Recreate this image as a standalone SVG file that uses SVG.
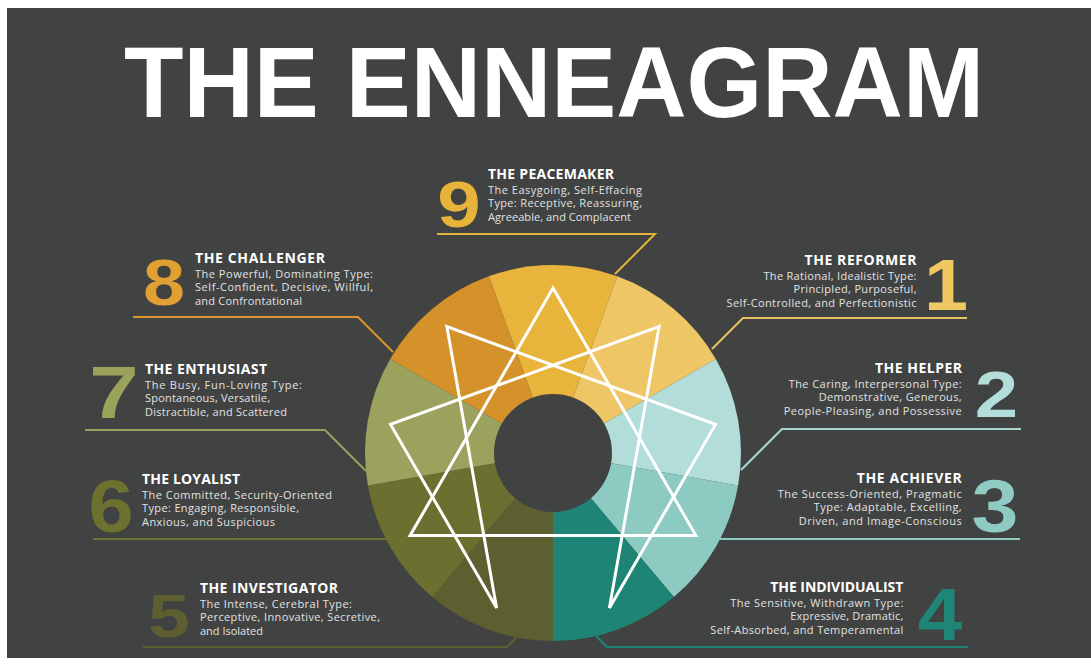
<svg xmlns="http://www.w3.org/2000/svg" width="1091" height="665" viewBox="0 0 1091 665">
  <style>
    .ttl{font-family:"Open Sans","Liberation Sans",sans-serif;font-weight:700;font-size:14px;fill:#ffffff}
    .body{font-family:"Open Sans","Liberation Sans",sans-serif;font-size:11px;fill:#e2e2e2}
    .num{font-family:"Liberation Sans",Arial,sans-serif;font-weight:700;text-anchor:middle}
    .lead{fill:none;stroke-width:2}
    .star{fill:none;stroke:#ffffff;stroke-width:3;stroke-linejoin:miter}
  </style>

  <rect x="0" y="0" width="1091" height="665" fill="#ffffff"/>
  <rect x="7" y="8" width="1084" height="650" fill="#414242"/>

  <text id="heading" x="124" y="117" font-family="'Liberation Sans',Arial,sans-serif" font-weight="700" font-size="100" fill="#ffffff" textLength="860" lengthAdjust="spacingAndGlyphs">THE ENNEAGRAM</text>

  <!-- wheel: nine 40-degree wedges around (553,453) -->
  <g id="wheel">
    <path d="M553,453 L488.7,276.3 A188,188 0 0 1 617.3,276.3 Z" fill="#E9B43B"/>
    <path d="M553,453 L617.3,276.3 A188,188 0 0 1 715.8,359 Z" fill="#EEC666"/>
    <path d="M553,453 L715.8,359 A188,188 0 0 1 738.1,485.6 Z" fill="#B2DDD8"/>
    <path d="M553,453 L738.1,485.6 A188,188 0 0 1 673.8,597 Z" fill="#8DCAC2"/>
    <path d="M553,453 L673.8,597 A188,188 0 0 1 553,641 Z" fill="#1E8576"/>
    <path d="M553,453 L553,641 A188,188 0 0 1 432.2,597 Z" fill="#5E5F31"/>
    <path d="M553,453 L432.2,597 A188,188 0 0 1 367.9,485.6 Z" fill="#6B7031"/>
    <path d="M553,453 L367.9,485.6 A188,188 0 0 1 390.2,359 Z" fill="#9BA25E"/>
    <path d="M553,453 L390.2,359 A188,188 0 0 1 488.7,276.3 Z" fill="#D6922A"/>
    <circle cx="553" cy="453" r="59" fill="#414242"/>
  </g>

  <g id="star">
    <polygon class="star" points="553,288 695.9,535.5 410.1,535.5"/>
    <polygon class="star" points="659.1,326.6 609.4,608.1 715.5,424.4 446.9,326.6 496.6,608.1 390.5,424.4"/>
  </g>

  <g id="connectors">
    <path class="lead" stroke="#E2B13C" d="M437,234 H655 L615,274"/>
    <path class="lead" stroke="#D9962E" d="M133,317 H358 L393,352"/>
    <path class="lead" stroke="#E6C262" d="M967,318 H743 L712,349"/>
    <path class="lead" stroke="#9AA05A" d="M85,430 H325 L366,471"/>
    <path class="lead" stroke="#A9D6D0" d="M1021,429 H782 L741,470"/>
    <path class="lead" stroke="#6E7232" d="M93,539 H386"/>
    <path class="lead" stroke="#8DCAC2" d="M1020,539 H720"/>
    <path class="lead" stroke="#5E5F31" d="M143,647 H507 L517,637"/>
    <path class="lead" stroke="#1E8576" d="M968,647 H607 L596,636"/>
  </g>

  <g id="type9">
    <text class="num" fill="#E8B33A" font-size="64" transform="translate(459,227) scale(1.22,1)">9</text>
    <text class="ttl" x="488" y="179" textLength="126">THE PEACEMAKER</text>
    <text class="body" x="488" y="193.5" textLength="154">The Easygoing, Self-Effacing</text>
    <text class="body" x="488" y="207" textLength="154">Type: Receptive, Reassuring,</text>
    <text class="body" x="488" y="220.5" textLength="143">Agreeable, and Complacent</text>
  </g>

  <g id="type8">
    <text class="num" fill="#E0A032" font-size="64" transform="translate(164,305) scale(1.18,1)">8</text>
    <text class="ttl" x="195" y="263" textLength="130">THE CHALLENGER</text>
    <text class="body" x="195" y="277.5" textLength="178">The Powerful, Dominating Type:</text>
    <text class="body" x="195" y="291" textLength="178">Self-Confident, Decisive, Willful,</text>
    <text class="body" x="195" y="304.5" textLength="107">and Confrontational</text>
  </g>

  <g id="type1">
    <text class="num" fill="#EFC862" font-size="72" transform="translate(946,310) scale(1.1,1)">1</text>
    <text class="ttl" x="804.5" y="265" textLength="112">THE REFORMER</text>
    <text class="body" x="763.5" y="279.5" textLength="153">The Rational, Idealistic Type:</text>
    <text class="body" x="793.5" y="293" textLength="123">Principled, Purposeful,</text>
    <text class="body" x="726.5" y="306.5" textLength="190">Self-Controlled, and Perfectionistic</text>
  </g>

  <g id="type7">
    <text class="num" fill="#9BA25C" font-size="74" transform="translate(114,418) scale(1.2,1)">7</text>
    <text class="ttl" x="145" y="374" textLength="122">THE ENTHUSIAST</text>
    <text class="body" x="145" y="388.5" textLength="157">The Busy, Fun-Loving Type:</text>
    <text class="body" x="145" y="402" textLength="125">Spontaneous, Versatile,</text>
    <text class="body" x="145" y="415.5" textLength="142">Distractible, and Scattered</text>
  </g>

  <g id="type2">
    <text class="num" fill="#B3DDD8" font-size="65" transform="translate(996.5,417) scale(1.2,1)">2</text>
    <text class="ttl" x="875" y="373" textLength="87">THE HELPER</text>
    <text class="body" x="788.7" y="387.5" textLength="173">The Caring, Interpersonal Type:</text>
    <text class="body" x="818.7" y="401" textLength="143">Demonstrative, Generous,</text>
    <text class="body" x="783.7" y="414.5" textLength="178">People-Pleasing, and Possessive</text>
  </g>

  <g id="type6">
    <text class="num" fill="#6C7130" font-size="75" transform="translate(111,532) scale(1.08,1)">6</text>
    <text class="ttl" x="142" y="484" textLength="98">THE LOYALIST</text>
    <text class="body" x="142" y="498.5" textLength="190">The Committed, Security-Oriented</text>
    <text class="body" x="142" y="512" textLength="157">Type: Engaging, Responsible,</text>
    <text class="body" x="142" y="525.5" textLength="133">Anxious, and Suspicious</text>
  </g>

  <g id="type3">
    <text class="num" fill="#8FCBC3" font-size="74" transform="translate(995,532) scale(1.14,1)">3</text>
    <text class="ttl" x="856.7" y="483" textLength="105">THE ACHIEVER</text>
    <text class="body" x="777.7" y="497.5" textLength="184">The Success-Oriented, Pragmatic</text>
    <text class="body" x="813.7" y="511" textLength="148">Type: Adaptable, Excelling,</text>
    <text class="body" x="798.7" y="524.5" textLength="163">Driven, and Image-Conscious</text>
  </g>

  <g id="type5">
    <text class="num" fill="#5E5F30" font-size="62" transform="translate(169,637) scale(1.2,1)">5</text>
    <text class="ttl" x="200" y="593" textLength="138">THE INVESTIGATOR</text>
    <text class="body" x="200" y="607.5" textLength="152">The Intense, Cerebral Type:</text>
    <text class="body" x="200" y="621" textLength="180">Perceptive, Innovative, Secretive,</text>
    <text class="body" x="200" y="634.5" textLength="63">and Isolated</text>
  </g>

  <g id="type4">
    <text class="num" fill="#1F8677" font-size="74" transform="translate(940,640) scale(1.08,1)">4</text>
    <text class="ttl" x="770.3" y="592" textLength="133">THE INDIVIDUALIST</text>
    <text class="body" x="730.3" y="606.5" textLength="173">The Sensitive, Withdrawn Type:</text>
    <text class="body" x="790.3" y="620" textLength="113">Expressive, Dramatic,</text>
    <text class="body" x="710.3" y="633.5" textLength="193">Self-Absorbed, and Temperamental</text>
  </g>
</svg>
